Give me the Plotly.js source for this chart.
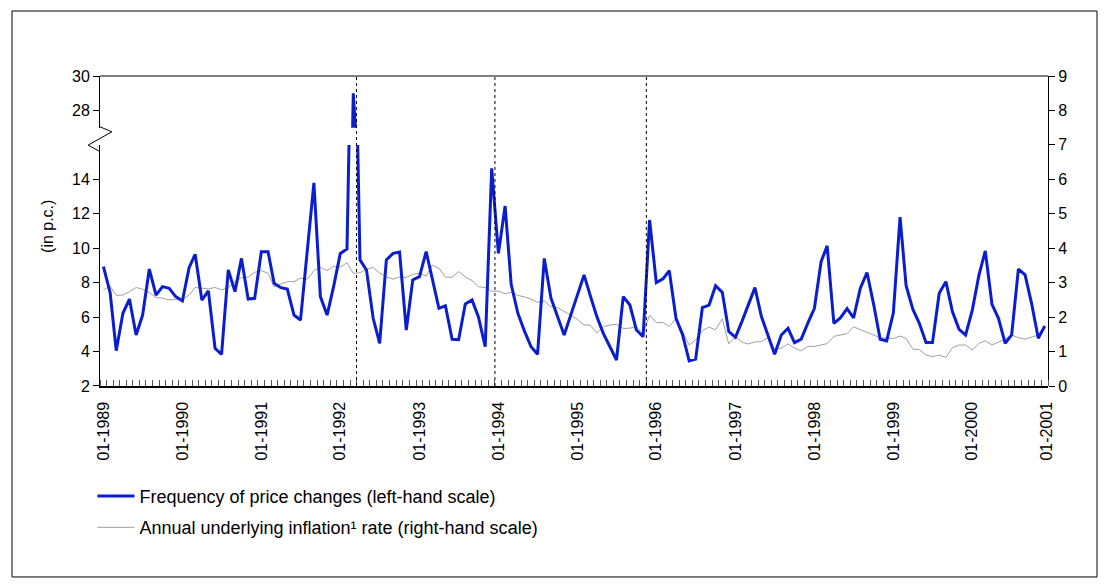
<!DOCTYPE html>
<html>
<head>
<meta charset="utf-8">
<script src="https://cdn.plot.ly/plotly-3.0.1.min.js"></script>
<style>
  html, body { margin: 0; padding: 0; background: #fff; }
  #chart { width: 1110px; height: 585px; }
</style>
</head>
<body>
<div id="chart"></div>
<script>
// ---- categories: monthly observations, 01-1989 .. 12-2000 ----
const startYear = 1989;
const endYear = 2000;
const months = [];
for (let y = startYear; y <= endYear; y++) {
  for (let m = 1; m <= 12; m++) {
    months.push(y + '-' + (m < 10 ? '0' + m : m) + '-01');
  }
}

// ---- series 1: frequency of price changes (left-hand scale, %) ----
const frequency = [
  8.93, 7.40, 4.05, 6.22, 7.05, 4.96, 6.12, 8.79, 7.28, 7.77, 7.67, 7.19,
  6.94, 8.87, 9.65, 6.99, 7.52, 4.19, 3.84, 8.74, 7.48, 9.41, 7.05, 7.09,
  9.80, 9.80, 7.96, 7.71, 7.63, 6.12, 5.83, 9.80, 13.80, 7.19, 6.12, 7.77,
  9.70, 9.96, 29.00, 9.32, 8.74, 5.93, 4.48, 9.32, 9.70, 9.78, 5.25, 8.16,
  8.35, 9.80, 8.16, 6.51, 6.66, 4.71, 4.69, 6.76, 6.99, 6.00, 4.28, 14.64,
  9.70, 12.45, 7.90, 6.22, 5.20, 4.28, 3.84, 9.41, 7.10, 6.00, 4.96, 6.10,
  7.30, 8.45, 7.28, 6.03, 5.06, 4.28, 3.51, 7.19, 6.70, 5.25, 4.86, 11.64,
  8.00, 8.22, 8.70, 5.93, 5.00, 3.46, 3.56, 6.55, 6.70, 7.82, 7.44, 5.16,
  4.83, 5.78, 6.75, 7.71, 6.03, 4.96, 3.85, 4.96, 5.35, 4.52, 4.72, 5.64,
  6.51, 9.22, 10.14, 5.64, 5.95, 6.49, 5.95, 7.67, 8.59, 6.80, 4.71, 4.62,
  6.25, 11.80, 7.82, 6.46, 5.64, 4.52, 4.52, 7.38, 8.06, 6.32, 5.29, 4.96,
  6.41, 8.45, 9.84, 6.74, 5.93, 4.48, 4.96, 8.79, 8.45, 6.80, 4.77, 5.48
];

// ---- series 2: annual underlying inflation rate (right-hand scale, %) ----
const inflation = [
  2.79, 2.90, 2.63, 2.64, 2.74, 2.86, 2.81, 2.71, 2.57, 2.55, 2.50, 2.52,
  2.52, 2.64, 2.86, 2.84, 2.82, 2.86, 2.79, 2.86, 3.03, 3.15, 3.16, 3.30,
  3.35, 3.27, 2.88, 2.96, 3.03, 3.03, 3.13, 3.10, 3.35, 3.45, 3.35, 3.48,
  3.45, 3.58, 3.27, 3.29, 3.39, 3.44, 3.28, 3.17, 3.10, 3.17, 3.15, 3.24,
  3.27, 3.19, 3.51, 3.42, 3.16, 3.16, 3.32, 3.17, 3.06, 2.88, 2.86, 2.75,
  2.75, 2.68, 2.72, 2.63, 2.59, 2.52, 2.43, 2.47, 2.30, 2.28, 2.17, 2.05,
  1.94, 1.77, 1.77, 1.54, 1.72, 1.77, 1.79, 1.67, 1.68, 1.72, 1.52, 2.06,
  1.84, 1.84, 1.73, 1.96, 1.56, 1.19, 1.34, 1.61, 1.71, 1.63, 1.95, 1.22,
  1.44, 1.27, 1.22, 1.28, 1.29, 1.41, 1.06, 1.10, 1.22, 1.10, 1.02, 1.15,
  1.15, 1.20, 1.23, 1.44, 1.48, 1.52, 1.72, 1.64, 1.55, 1.46, 1.40, 1.39,
  1.38, 1.45, 1.38, 1.07, 1.06, 0.90, 0.85, 0.90, 0.83, 1.11, 1.19, 1.19,
  1.04, 1.24, 1.31, 1.19, 1.27, 1.36, 1.48, 1.40, 1.36, 1.43, 1.48, 1.72
];

// ---- tick labels ----
const xTickDates = ['1989-01-01','1990-01-01','1991-01-01','1992-01-01','1993-01-01','1994-01-01',
                    '1995-01-01','1996-01-01','1997-01-01','1998-01-01','1999-01-01','2000-01-01','2000-12-11'];
const xTickLabels = ['01-1989','01-1990','01-1991','01-1992','01-1993','01-1994',
                     '01-1995','01-1996','01-1997','01-1998','01-1999','01-2000','01-2001'];
const leftLowerTicks = [2, 4, 6, 8, 10, 12, 14];
const leftUpperTicks = [28, 30];
const rightTicks = [0, 1, 2, 3, 4, 5, 6, 7, 8, 9];

// ---- event markers (dotted vertical lines) ----
const eventLines = ['1992-03-16', '1993-12-16', '1995-11-16'];

const seriesNames = [
  'Frequency of price changes (left-hand scale)',
  'Annual underlying inflation\u00b9 rate (right-hand scale)'
];

const FONT = 'Liberation Sans, Arial, Helvetica, sans-serif';
const BLUE = '#0a1ecf';
const GREY = '#a0a0a0';
const TICK_SIZE = 16;

const traces = [
  { // blue, lower panel
    x: months, y: frequency, type: 'scatter', mode: 'lines',
    xaxis: 'x', yaxis: 'y2',
    name: seriesNames[0], legendgroup: 'a',
    line: { color: BLUE, width: 3 }
  },
  { // grey, right scale
    x: months, y: inflation, type: 'scatter', mode: 'lines',
    xaxis: 'x', yaxis: 'y',
    name: seriesNames[1], legendgroup: 'b',
    line: { color: GREY, width: 1 }
  },
  { // blue, upper (broken) panel
    x: months, y: frequency, type: 'scatter', mode: 'lines',
    xaxis: 'x', yaxis: 'y3',
    name: seriesNames[0], legendgroup: 'a', showlegend: false,
    line: { color: BLUE, width: 3 }
  }
];

const shapes = eventLines.map(d => ({
  type: 'line', xref: 'x', yref: 'paper', x0: d, x1: d, y0: 0, y1: 1,
  line: { color: '#000', width: 1, dash: 'dot' }
}));
// plot frame top
shapes.push({ type: 'line', xref: 'paper', yref: 'paper', x0: 0, x1: 1, y0: 1, y1: 1,
  line: { color: '#000', width: 1 } });
// axis-break zigzag on the left axis
shapes.push({ type: 'path', xref: 'paper', yref: 'paper',
  path: 'M 0 0.836 L 0.0125 0.820 L -0.0125 0.777 L 0 0.756',
  line: { color: '#000', width: 1 } });
// outer figure border
shapes.push({ type: 'rect', xref: 'paper', yref: 'paper',
  x0: -0.0928, x1: 1.0517, y0: -0.616, y1: 1.2097,
  line: { color: '#000', width: 1 }, fillcolor: 'rgba(0,0,0,0)' });

const layout = {
  width: 1110, height: 585,
  margin: { l: 100, r: 62, t: 76, b: 199 },
  paper_bgcolor: '#fff',
  plot_bgcolor: 'rgba(0,0,0,0)',
  font: { family: FONT, size: 16, color: '#000' },
  showlegend: true,
  hovermode: false,
  xaxis: {
    type: 'date',
    range: ['1988-12-16', '2000-12-16'],
    anchor: 'y2',
    tickmode: 'array', tickvals: xTickDates, ticktext: xTickLabels,
    tickangle: -90, ticks: '', ticklabelstandoff: 8,
    tickfont: { family: FONT, size: TICK_SIZE, color: '#000' },
    showline: true, linecolor: '#000', linewidth: 1.5,
    showgrid: false, zeroline: false,
    minor: { tickmode: 'linear', tick0: '1988-12-16', dtick: 'M1',
             ticks: 'inside', ticklen: 6, tickwidth: 1, tickcolor: '#555', showgrid: false }
  },
  yaxis: { // right scale for inflation
    domain: [0, 1], range: [0, 9], anchor: 'x', side: 'right',
    tickmode: 'array', tickvals: rightTicks,
    ticks: 'outside', ticklen: 6, tickcolor: '#000',
    showline: true, linecolor: '#000', linewidth: 1,
    showgrid: false, zeroline: false,
    tickfont: { family: FONT, size: TICK_SIZE, color: '#000' }
  },
  yaxis2: { // left scale, lower part
    domain: [0, 7 / 9], range: [2, 16], anchor: 'x', side: 'left',
    tickmode: 'array', tickvals: leftLowerTicks,
    ticks: 'outside', ticklen: 6, tickcolor: '#000',
    showline: true, linecolor: '#000', linewidth: 1,
    showgrid: false, zeroline: false,
    tickfont: { family: FONT, size: TICK_SIZE, color: '#000' }
  },
  yaxis3: { // left scale, upper part (after the break)
    domain: [7.5 / 9, 1], range: [27, 30], anchor: 'x', side: 'left',
    tickmode: 'array', tickvals: leftUpperTicks,
    ticks: 'outside', ticklen: 6, tickcolor: '#000',
    showline: true, linecolor: '#000', linewidth: 1,
    showgrid: false, zeroline: false,
    tickfont: { family: FONT, size: TICK_SIZE, color: '#000' }
  },
  legend: {
    x: -0.008, xanchor: 'left', y: -0.296, yanchor: 'top',
    orientation: 'v', traceorder: 'grouped', tracegroupgap: 5,
    itemwidth: 37, bgcolor: 'rgba(0,0,0,0)', borderwidth: 0,
    font: { family: FONT, size: 18, color: '#000' }
  },
  annotations: [{
    text: '(in p.c.)', xref: 'paper', yref: 'paper',
    x: -0.056, y: 0.516, xanchor: 'center', yanchor: 'middle',
    textangle: -90, showarrow: false,
    font: { family: FONT, size: 16, color: '#000' }
  }],
  shapes: shapes
};

Plotly.newPlot('chart', traces, layout, { displayModeBar: false, staticPlot: true });
</script>
</body>
</html>
